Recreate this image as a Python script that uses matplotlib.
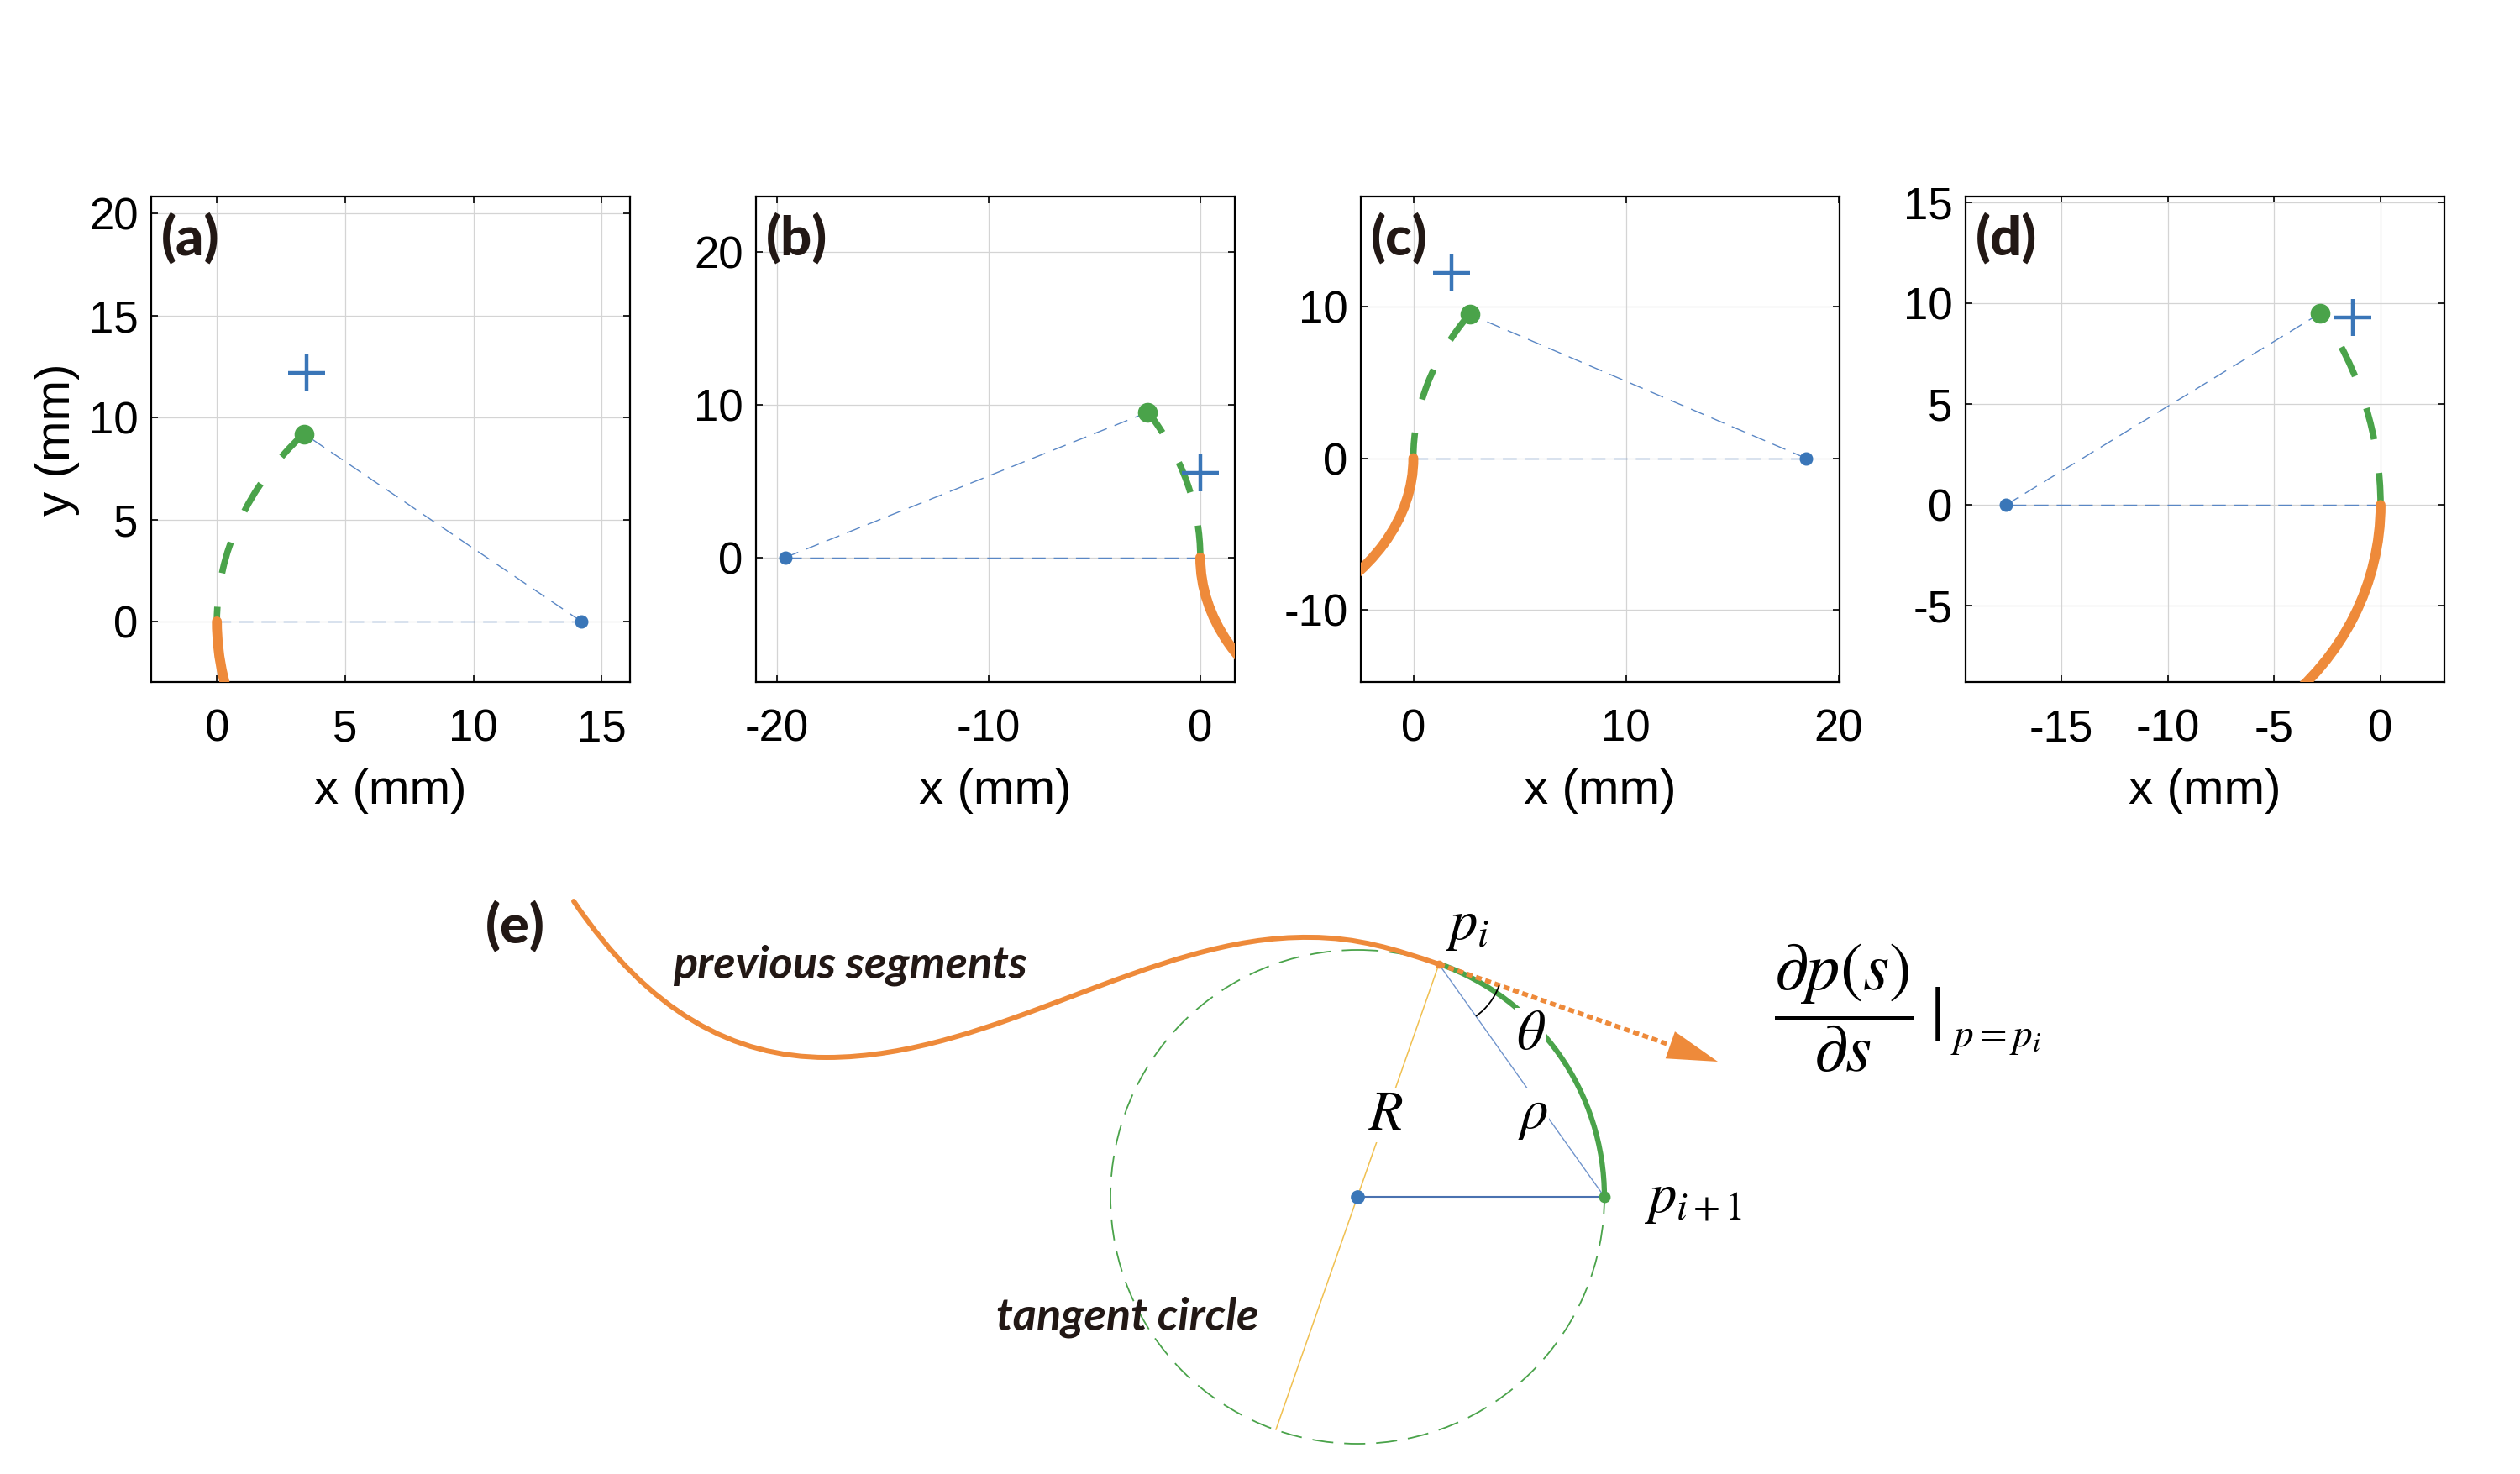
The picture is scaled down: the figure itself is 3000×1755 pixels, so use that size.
import numpy as np
import matplotlib.pyplot as plt
from matplotlib.patches import Arc, Circle, PathPatch
from matplotlib.path import Path

plt.rcParams['font.family'] = ['Liberation Sans', 'DejaVu Sans']
plt.rcParams['mathtext.fontset'] = 'stix'
plt.rcParams['axes.unicode_minus'] = False

BLUE = '#3a76b8'
BLUE_LINE = '#5a87c5'
GREEN = '#4aa34a'
ORANGE = '#ee8a3a'
YELLOW = '#f0c050'
INK = '#221815'
TAG_FONT = ['Lato', 'DejaVu Sans']

# ---- panels (a)-(d), values in mm ----
panel_tags = ['(a)', '(b)', '(c)', '(d)']
center_x = [14.2, -19.6, 18.45, -17.6]        # blue dot, centre of the fitted arc (y = 0)
tip_x = [3.4, -2.5, 2.65, -2.85]              # green dot, end of the new segment
tip_y = [9.2, 9.5, 9.5, 9.5]
target_x = [3.5, 0.0, 1.8, -1.3]              # blue plus, target point
target_y = [12.2, 5.55, 12.25, 9.3]
prev_center_x = [15.0, 12.5, -12.2, -12.85]   # orange previous segment, arc centre (y = 0)
prev_end_y = [-10, -10, -10, -10]
xlims = [(-2.56, 16.1), (-20.98, 1.63), (-2.47, 20.04), (-19.5, 3.0)]
ylims = [(-2.97, 20.84), (-8.15, 23.63), (-14.78, 17.28), (-8.78, 15.3)]
xticks = [[0, 5, 10, 15], [-20, -10, 0], [0, 10, 20], [-15, -10, -5, 0]]
yticks = [[0, 5, 10, 15, 20], [0, 10, 20], [-10, 0, 10], [-5, 0, 5, 10, 15]]

# ---- panel (e), values in figure pixels (x right, y down) ----
# previous segments: cubic pieces, on-curve nodes and their control points
prev_nodes = [(683, 1073), (984, 1259), (1560, 1116), (1713, 1148)]
prev_ctrl = [((773, 1206), (874, 1259)),
             ((1184, 1259), (1370, 1113)),
             ((1615, 1116), (1661, 1130))]
circ_c = [1616, 1425]
circ_r = 294
p_i = [1713, 1148]
p_next = [1910, 1425]
p_opp = [1519, 1702]
tangent_tip = [2045, 1264]

W, H = 3000, 1755
fig = plt.figure(figsize=(30, 17.55), dpi=100)

ax_left = [180, 900, 1620, 2340]
ax_w, ax_top, ax_bot = 570, 234, 812

for i in range(4):
    ax = fig.add_axes([ax_left[i] / W, 1 - ax_bot / H, ax_w / W, (ax_bot - ax_top) / H])
    cx = center_x[i]
    r = abs(cx)
    tip_ang = np.degrees(np.arctan2(tip_y[i], tip_x[i] - cx))
    if cx > 0:
        t1, t2 = tip_ang, 180
    else:
        t1, t2 = 0, tip_ang

    # radii of the fitted arc
    ax.plot([0, cx], [0, 0], color=BLUE_LINE, lw=1.0, ls=(0, (12, 7)), zorder=2)
    ax.plot([cx, tip_x[i]], [0, tip_y[i]], color=BLUE_LINE, lw=1.0, ls=(0, (12, 7)), zorder=2)

    ax.add_patch(Arc((cx, 0), 2 * r, 2 * r, theta1=t1, theta2=t2, edgecolor=GREEN,
                     lw=5.5, ls=(0, (5.0, 5.3)), zorder=3))

    pr = abs(prev_center_x[i])
    sweep = np.degrees(np.arcsin(min(1.0, abs(prev_end_y[i]) / pr)))
    if prev_center_x[i] > 0:
        p1, p2 = 180, 180 + sweep
    else:
        p1, p2 = -sweep, 0
    ax.add_patch(Arc((prev_center_x[i], 0), 2 * pr, 2 * pr, theta1=p1, theta2=p2,
                     edgecolor=ORANGE, lw=8.5, capstyle='round', zorder=4))

    ax.plot(cx, 0, 'o', ms=10.5, color=BLUE, zorder=5)
    ax.plot(tip_x[i], tip_y[i], 'o', ms=16, color=GREEN, zorder=5)
    ax.plot(target_x[i], target_y[i], '+', ms=32, mew=3.2, color=BLUE, zorder=5)

    ax.set_xlim(xlims[i])
    ax.set_ylim(ylims[i])
    ax.set_xticks(xticks[i])
    ax.set_yticks(yticks[i])
    ax.grid(True, color='#d4d4d4', lw=0.9)
    ax.set_axisbelow(True)
    for s in ax.spines.values():
        s.set_linewidth(1.6)
    ax.tick_params(direction='in', length=6, width=1.2, top=True, right=True, labelsize=38)
    ax.tick_params(axis='x', pad=23)
    ax.tick_params(axis='y', pad=11)
    ax.set_xlabel('x (mm)', fontsize=42, labelpad=15)
    if i == 0:
        ax.set_ylabel('y (mm)', fontsize=42, labelpad=8)
    ax.text(0.02, 0.915, panel_tags[i], transform=ax.transAxes, fontsize=47,
            fontweight=900, family=TAG_FONT, color=INK, ha='left', va='center', zorder=6)

# ---- panel (e) ----
ae = fig.add_axes([0, 0, 1, (H - 1000) / H])
ae.set_xlim(0, W)
ae.set_ylim(H, 1000)
ae.axis('off')

ae.add_patch(Circle(circ_c, circ_r, fill=False, edgecolor=GREEN, lw=1.3,
                    ls=(0, (13.9, 7.2)), zorder=1))
ae.plot([p_i[0], p_opp[0]], [p_i[1], p_opp[1]], color=YELLOW, lw=1.1, zorder=2)
ae.plot([circ_c[0], p_next[0]], [circ_c[1], p_next[1]], color='#4a72b0', lw=1.5, zorder=2)
ae.plot([p_i[0], p_next[0]], [p_i[1], p_next[1]], color='#7094cc', lw=1.0, zorder=2)

a_start = np.degrees(np.arctan2(p_i[1] - circ_c[1], p_i[0] - circ_c[0]))
a_end = np.degrees(np.arctan2(p_next[1] - circ_c[1], p_next[0] - circ_c[0]))
ae.add_patch(Arc(circ_c, 2 * circ_r, 2 * circ_r, theta1=a_start, theta2=a_end,
                 edgecolor=GREEN, lw=4.5, zorder=3))

verts = [prev_nodes[0]]
codes = [Path.MOVETO]
for k, (c1, c2) in enumerate(prev_ctrl):
    verts += [c1, c2, prev_nodes[k + 1]]
    codes += [Path.CURVE4] * 3
ae.add_patch(PathPatch(Path(verts, codes), fill=False, edgecolor=ORANGE, lw=4.3,
                       capstyle='round', zorder=4))

# tangent arrow
d = np.array(tangent_tip, float) - np.array(p_i, float)
u = d / np.hypot(*d)
head_len = 60
base = np.array(tangent_tip, float) - head_len * u
ae.plot([p_i[0], base[0]], [p_i[1], base[1]], color=ORANGE, lw=4.0,
        ls=(0, (1.3, 0.8)), zorder=4)
ae.arrow(base[0], base[1], head_len * u[0], head_len * u[1], width=0, head_width=34,
         head_length=head_len, length_includes_head=True, color=ORANGE, lw=0, zorder=4)

# angle between tangent and chord
ang_t = np.degrees(np.arctan2(d[1], d[0]))
ang_c = np.degrees(np.arctan2(p_next[1] - p_i[1], p_next[0] - p_i[0]))
ae.add_patch(Arc(p_i, 152, 152, theta1=ang_t, theta2=ang_c, edgecolor='black', lw=1.3, zorder=5))

ae.plot(*circ_c, 'o', ms=11, color=BLUE, zorder=6)
ae.plot(*p_next, 'o', ms=9, color=GREEN, zorder=6)
ae.plot(*p_i, 'o', ms=6, color=ORANGE, zorder=6)

white = dict(facecolor='white', edgecolor='none', pad=1)
ae.text(613, 1103, '(e)', fontsize=47, fontweight=900, family=TAG_FONT, color=INK,
        ha='center', va='center')
ae.text(801, 1149, 'previous segments', fontsize=39, fontweight='bold', fontstyle='italic',
        family=TAG_FONT, color=INK, ha='left', va='center')
ae.text(1186, 1568, 'tangent circle', fontsize=39, fontweight='bold', fontstyle='italic',
        family=TAG_FONT, color=INK, ha='left', va='center')
ae.text(1746, 1103, r'$p_i$', fontsize=48, ha='center', va='center')
ae.text(1822, 1232, r'$\theta$', fontsize=48, ha='center', va='center', bbox=white, zorder=7)
ae.text(1650, 1328, r'$R$', fontsize=48, ha='center', va='center', bbox=white, zorder=7)
ae.text(1825, 1328, r'$\rho$', fontsize=48, ha='center', va='center', bbox=white, zorder=7)
ae.text(1957, 1428, r'$p_{i+1}$', fontsize=48, ha='left', va='center')
ae.text(2195, 1200, r'$\dfrac{\partial p(s)}{\partial s}$', fontsize=58, ha='center', va='center')
ae.text(2307, 1207, '|', fontsize=46, family='DejaVu Serif', ha='center', va='center')
ae.text(2322, 1236, r'$p{=}p_i$', fontsize=34, ha='left', va='center')

fig.savefig('out.png', dpi=100)
